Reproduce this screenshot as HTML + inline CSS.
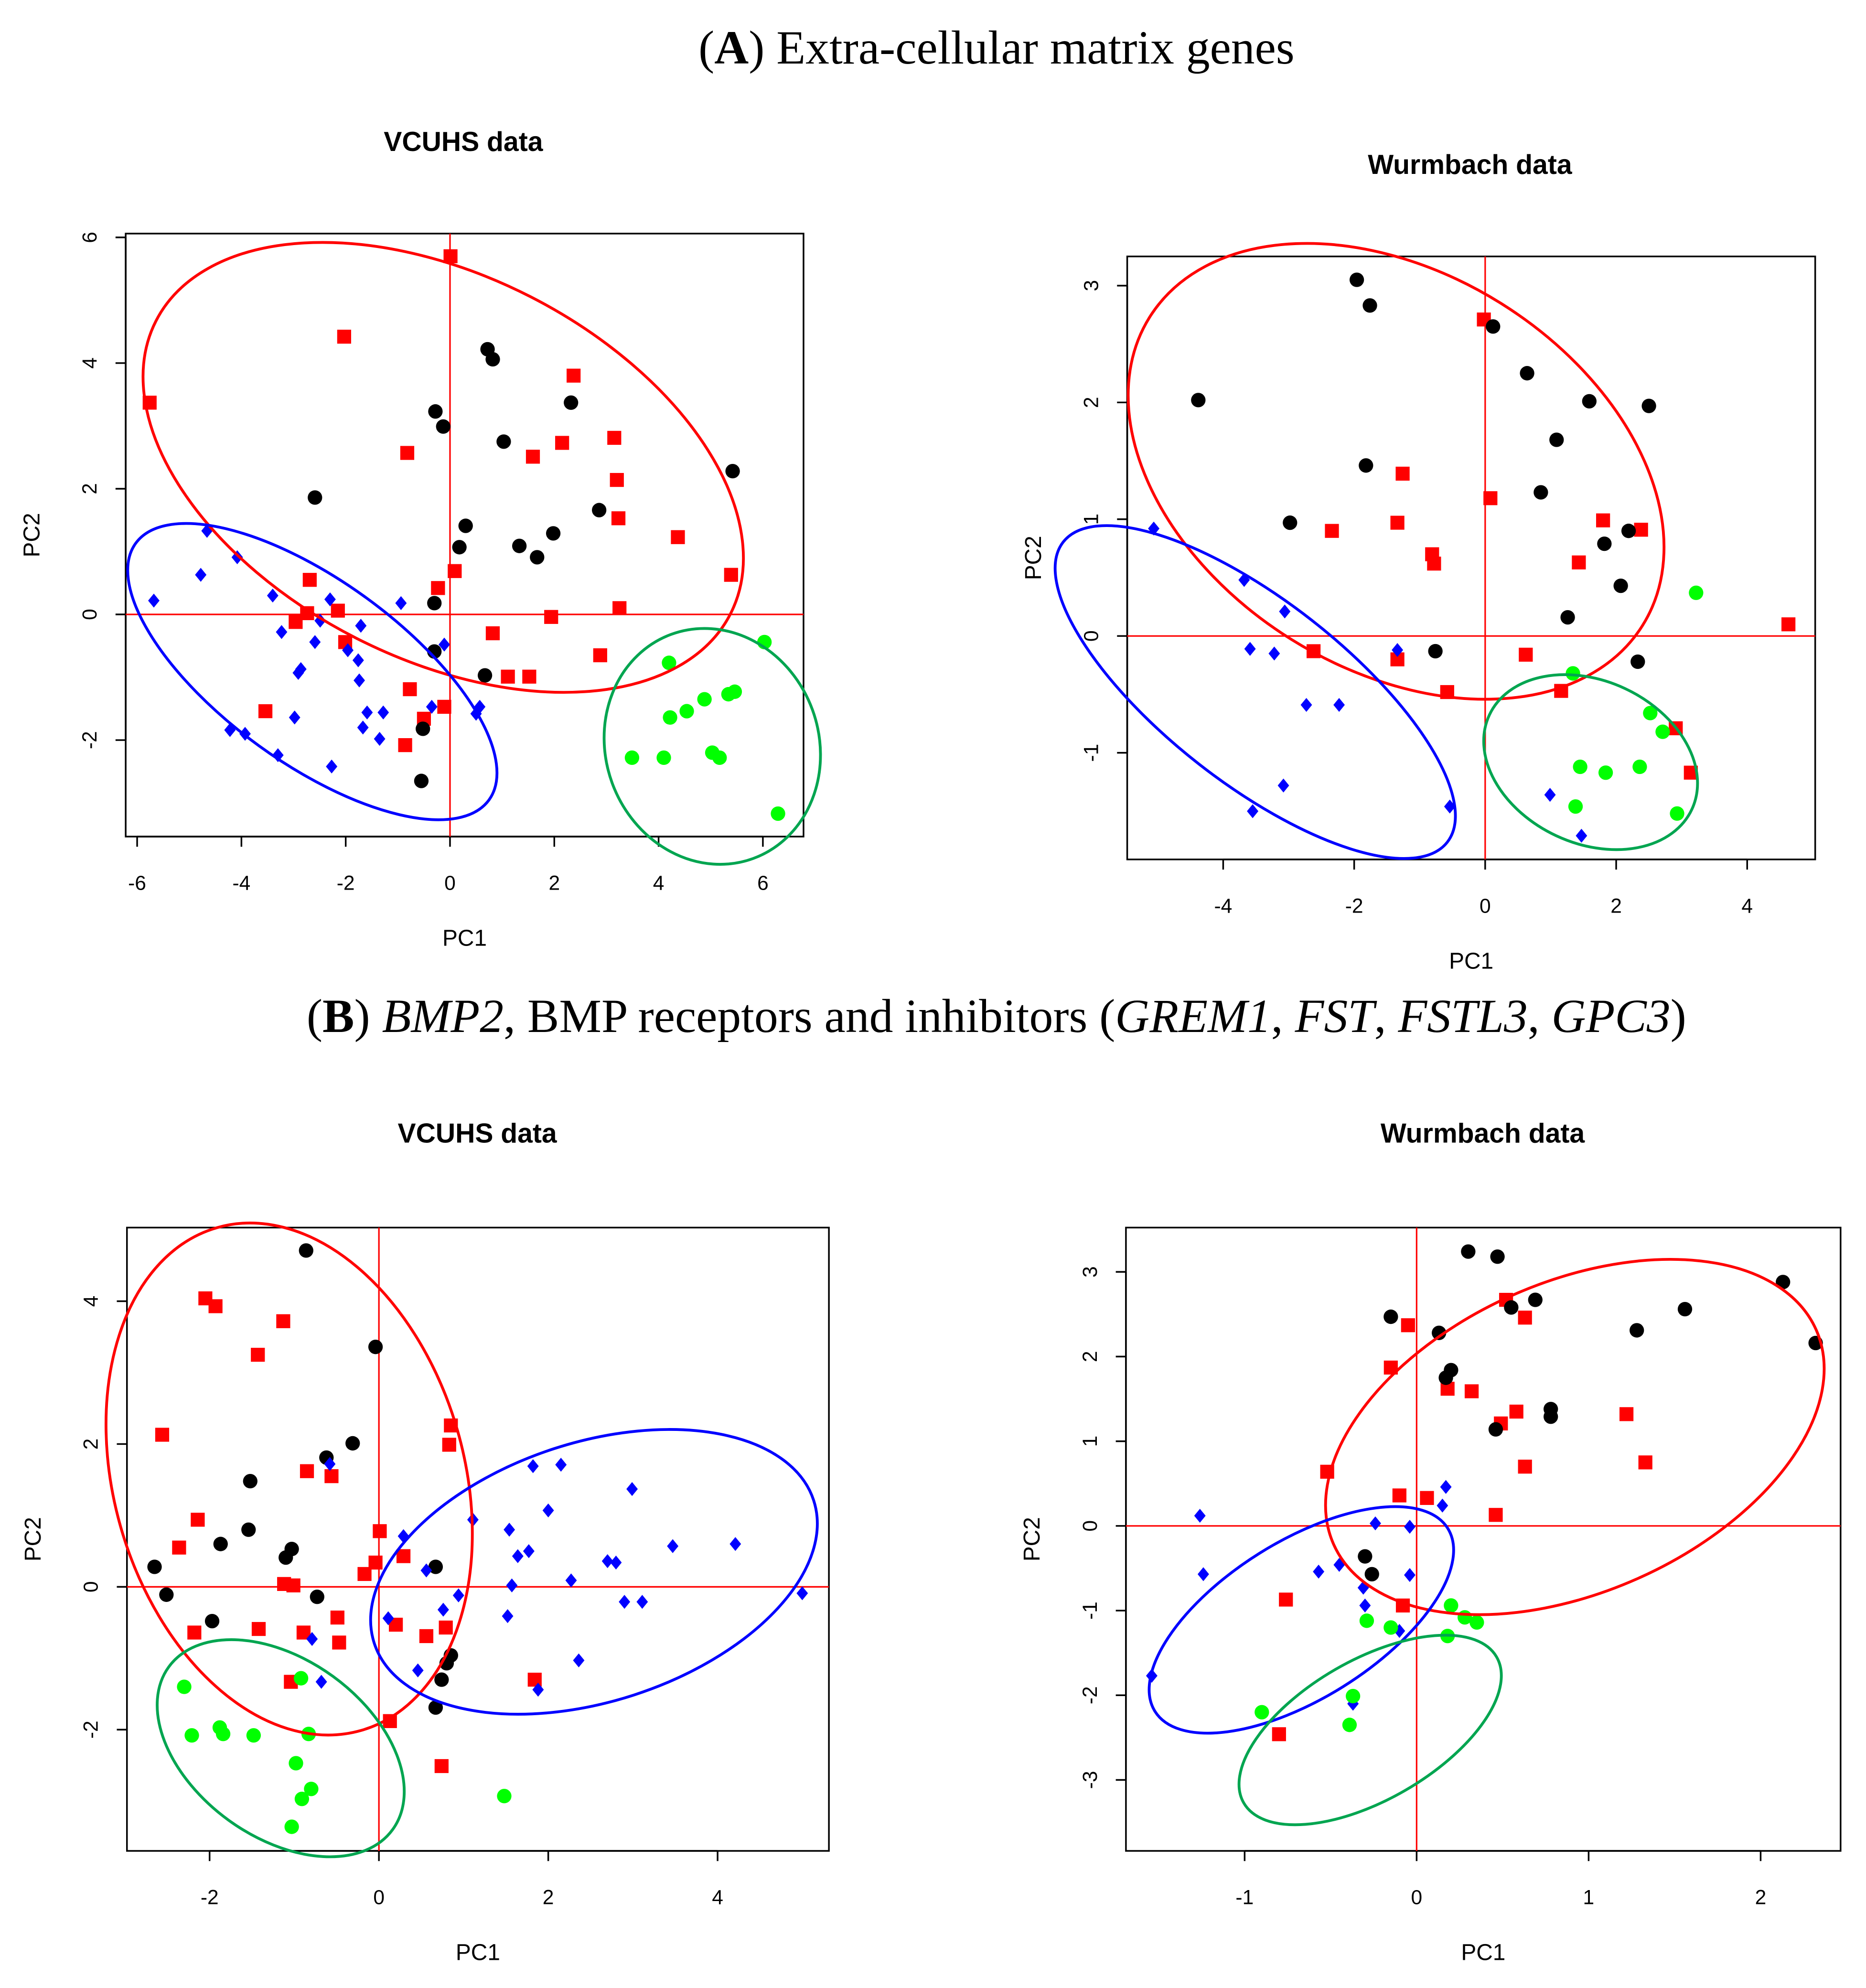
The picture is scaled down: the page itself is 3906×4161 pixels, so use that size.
<!DOCTYPE html>
<html><head><meta charset="utf-8"><style>
html,body{margin:0;padding:0;background:#fff;}
svg{display:block;}
</style></head><body>
<svg id="fig" width="3906" height="4161" viewBox="0 0 1470 1566" xmlns="http://www.w3.org/2000/svg">
<text x="785" y="50" text-anchor="middle" font-family="Liberation Serif, serif" font-size="37.5">(<tspan font-weight="bold">A</tspan>) Extra-cellular matrix genes</text>
<text x="785" y="813" text-anchor="middle" font-family="Liberation Serif, serif" font-size="37.5">(<tspan font-weight="bold">B</tspan>) <tspan font-style="italic">BMP2</tspan>, BMP receptors and inhibitors (<tspan font-style="italic">GREM1</tspan>, <tspan font-style="italic">FST</tspan>, <tspan font-style="italic">FSTL3</tspan>, <tspan font-style="italic">GPC3</tspan>)</text>
</svg>
<script>
// ---- Panel A-left (VCUHS, ECM) ----
const aL_black = [[0.72,4.22],[0.82,4.06],[-0.28,3.23],[-0.13,2.99],[1.03,2.75],[2.32,3.37],[5.42,2.28],[-2.59,1.86],[2.86,1.66],[0.30,1.41],[0.18,1.07],[1.33,1.09],[1.67,0.91],[1.98,1.29],[-0.30,0.18],[-0.30,-0.59],[0.67,-0.97],[-0.52,-1.82],[-0.55,-2.65]];
const aL_red = [[-5.76,3.37],[-2.03,4.42],[0.01,5.70],[-0.82,2.57],[2.37,3.80],[1.59,2.51],[2.15,2.73],[3.15,2.81],[3.20,2.14],[3.23,1.53],[4.37,1.23],[5.39,0.63],[3.25,0.10],[1.94,-0.04],[2.88,-0.65],[1.52,-0.99],[1.11,-0.99],[0.82,-0.30],[0.09,0.69],[-0.23,0.42],[-0.11,-1.47],[-0.50,-1.66],[-0.86,-2.08],[-0.77,-1.19],[-2.01,-0.44],[-2.15,0.06],[-2.69,0.55],[-2.74,0.02],[-2.96,-0.12],[-3.54,-1.54]];
const aL_blue = [[-5.68,0.22],[-4.78,0.63],[-4.66,1.33],[-4.08,0.91],[-3.40,0.30],[-3.23,-0.28],[-2.86,-0.87],[-2.91,-0.93],[-2.98,-1.64],[-3.30,-2.24],[-4.22,-1.84],[-3.93,-1.90],[-2.49,-0.10],[-2.30,0.24],[-2.59,-0.44],[-2.27,-2.42],[-1.96,-0.57],[-1.71,-0.18],[-1.76,-0.73],[-1.74,-1.05],[-1.59,-1.56],[-1.28,-1.56],[-1.67,-1.80],[-1.35,-1.98],[-0.94,0.18],[-0.11,-0.48],[-0.35,-1.47],[0.57,-1.47],[0.50,-1.58]];
const aL_green = [[4.20,-0.77],[6.03,-0.44],[4.22,-1.64],[4.54,-1.54],[4.88,-1.35],[5.34,-1.27],[5.46,-1.23],[3.49,-2.28],[4.10,-2.28],[5.03,-2.20],[5.17,-2.28],[6.29,-3.17]];
const aL_xticks = [-6,-4,-2,0,2,4,6];
const aL_yticks = [-2,0,2,4,6];
// ellipses: [centerX, centerY (data), semi-axis a, semi-axis b (px), angle deg]
const aL_ell = {red:[-0.13,2.34,254,151,27], blue:[-2.64,-0.91,172,72,36], green:[5.03,-2.10,94,84,70]};

// ---- Panel A-right (Wurmbach, ECM) ----
const aR_black = [[-1.96,3.05],[-1.76,2.83],[-4.38,2.02],[0.12,2.65],[0.64,2.25],[1.59,2.01],[2.50,1.97],[1.09,1.68],[-1.82,1.46],[0.85,1.23],[-2.98,0.97],[2.19,0.90],[1.82,0.79],[2.07,0.43],[1.26,0.16],[-0.76,-0.13],[2.33,-0.22]];
const aR_red = [[-0.02,2.71],[-1.26,1.39],[0.08,1.18],[-2.34,0.90],[-1.34,0.97],[-0.81,0.70],[-0.78,0.62],[1.80,0.99],[2.38,0.91],[1.43,0.63],[4.63,0.10],[-2.62,-0.13],[-1.34,-0.20],[-0.58,-0.48],[0.62,-0.16],[1.16,-0.47],[2.91,-0.79],[3.14,-1.17]];
const aR_blue = [[-5.06,0.92],[-3.68,0.48],[-3.06,0.21],[-3.59,-0.11],[-3.22,-0.15],[-2.73,-0.59],[-2.23,-0.59],[-3.08,-1.28],[-3.55,-1.50],[-1.34,-0.12],[-0.54,-1.46],[0.99,-1.36],[1.47,-1.71]];
const aR_green = [[3.22,0.37],[1.34,-0.32],[2.52,-0.66],[2.71,-0.82],[1.45,-1.12],[1.84,-1.17],[2.36,-1.12],[1.38,-1.46],[2.93,-1.52]];
const aR_xticks = [-4,-2,0,2,4];
const aR_yticks = [-1,0,1,2,3];
const aR_ell = {red:[-1.36,1.41,229,156,32], blue:[-3.51,-0.48,192,72,38], green:[1.61,-1.08,88,64,25]};

// ---- Panel B-left (VCUHS, BMP) ----
const bL_black = [[-0.86,4.71],[-0.04,3.36],[-0.31,2.01],[-0.62,1.81],[-1.52,1.48],[-1.54,0.80],[-1.87,0.60],[-1.03,0.53],[-1.10,0.41],[-2.65,0.28],[-2.51,-0.11],[-0.73,-0.14],[-1.97,-0.48],[0.67,0.28],[0.85,-0.96],[0.80,-1.07],[0.74,-1.30],[0.67,-1.69]];
const bL_red = [[-2.05,4.04],[-1.93,3.93],[-1.13,3.72],[-1.43,3.25],[-2.56,2.13],[0.85,2.26],[0.83,1.99],[-0.85,1.62],[-0.56,1.55],[-2.14,0.94],[-2.36,0.55],[0.01,0.78],[0.29,0.43],[-0.04,0.34],[-0.17,0.18],[-1.12,0.04],[-1.01,0.02],[-2.18,-0.64],[-1.42,-0.59],[-0.89,-0.64],[-0.49,-0.43],[-0.47,-0.78],[0.20,-0.53],[0.56,-0.69],[0.79,-0.57],[-1.04,-1.33],[0.13,-1.88],[1.84,-1.30],[0.74,-2.51]];
const bL_blue = [[-0.58,1.72],[1.82,1.69],[2.15,1.71],[1.11,0.94],[0.29,0.71],[1.54,0.80],[2.00,1.07],[2.99,1.37],[1.77,0.50],[1.64,0.43],[0.56,0.23],[2.70,0.36],[2.80,0.34],[3.47,0.57],[4.21,0.60],[2.27,0.09],[1.57,0.02],[0.94,-0.12],[0.76,-0.32],[2.90,-0.21],[3.11,-0.21],[1.52,-0.41],[2.36,-1.03],[5.00,-0.09],[0.11,-0.44],[-0.79,-0.73],[0.46,-1.17],[1.88,-1.44],[-0.68,-1.33]];
const bL_green = [[-2.30,-1.40],[-2.21,-2.08],[-1.88,-1.97],[-1.84,-2.06],[-1.48,-2.08],[-0.92,-1.28],[-0.83,-2.06],[-0.98,-2.47],[-0.80,-2.83],[-0.91,-2.97],[-1.03,-3.36],[1.48,-2.93]];
const bL_xticks = [-2,0,2,4];
const bL_yticks = [-2,0,2,4];
const bL_ell = {red:[-1.06,1.51,206,138,74], blue:[2.54,0.21,182,102,-18], green:[-1.16,-2.26,109,70,36]};

// ---- Panel B-right (Wurmbach, BMP) ----
const bR_black = [[0.30,3.24],[0.47,3.18],[2.13,2.88],[0.69,2.67],[0.55,2.58],[1.56,2.56],[-0.15,2.47],[0.13,2.28],[1.28,2.31],[2.32,2.16],[0.20,1.84],[0.17,1.75],[0.78,1.38],[0.78,1.29],[0.46,1.14],[-0.30,-0.36],[-0.26,-0.57]];
const bR_red = [[0.52,2.67],[0.63,2.46],[-0.05,2.37],[-0.15,1.87],[0.18,1.62],[0.32,1.59],[0.58,1.35],[0.49,1.21],[1.22,1.32],[1.33,0.75],[0.63,0.70],[-0.52,0.64],[-0.10,0.36],[0.06,0.33],[0.46,0.13],[-0.76,-0.87],[-0.08,-0.94],[-0.80,-2.46]];
const bR_blue = [[-1.26,0.12],[0.17,0.46],[-0.24,0.03],[-0.04,-0.01],[0.15,0.24],[-1.24,-0.57],[-0.57,-0.54],[-0.45,-0.46],[-0.04,-0.58],[-0.31,-0.73],[-0.30,-0.94],[-1.54,-1.77],[-0.10,-1.24],[-0.37,-2.10]];
const bR_green = [[0.20,-0.94],[-0.29,-1.12],[-0.15,-1.20],[0.28,-1.08],[0.35,-1.14],[0.18,-1.30],[-0.90,-2.20],[-0.37,-2.01],[-0.39,-2.35]];
const bR_xticks = [-1,0,1,2];
const bR_yticks = [-3,-2,-1,0,1,2,3];
const bR_ell = {red:[0.92,1.05,208,122,-24], blue:[-0.67,-1.11,136,62,-32], green:[-0.27,-2.41,115,55,-30]};

const NS='http://www.w3.org/2000/svg';
const svg=document.getElementById('fig');
function mk(tag,attrs,parent){const e=document.createElementNS(NS,tag);for(const k in attrs)e.setAttribute(k,attrs[k]);(parent||svg).appendChild(e);return e;}

function panel(id,cfg){
  const g=mk('g',{});
  
  
  const sx=v=>cfg.x0+(v-cfg.xr[0])*cfg.xs;
  const sy=v=>cfg.y0-(v-cfg.yr[0])*cfg.ys;
  const F='Liberation Sans, sans-serif';
  const t=mk('text',{x:cfg.tx,y:cfg.ty,'text-anchor':'middle','font-family':F,'font-size':21.5,'font-weight':'bold'},g);
  t.textContent=cfg.title;
  
  
  const b=mk('rect',{x:cfg.box[0],y:cfg.box[1],width:cfg.box[2]-cfg.box[0],height:cfg.box[3]-cfg.box[1],fill:'none',stroke:'#000','stroke-width':1.3},g);
  
  
  const xa=mk('g',{},g);
  
  
  const xt=cfg.xticks, yB=cfg.box[3];
  mk('line',{x1:sx(xt[0]),x2:sx(xt[xt.length-1]),y1:yB,y2:yB,stroke:'#000','stroke-width':1.3},xa);
  xt.forEach(v=>{
    mk('line',{x1:sx(v),x2:sx(v),y1:yB,y2:yB+8,stroke:'#000','stroke-width':1.3},xa);
    const l=mk('text',{x:sx(v),y:yB+42,'text-anchor':'middle','font-family':F,'font-size':16},xa);
    l.textContent=String(v);
    
    
  });
  const xl=mk('text',{x:(cfg.box[0]+cfg.box[2])/2,y:yB+86,'text-anchor':'middle','font-family':F,'font-size':18},g);
  xl.textContent='PC1';
  
  
  const ya=mk('g',{},g);
  
  
  const yt=cfg.yticks, xL=cfg.box[0];
  mk('line',{x1:xL,x2:xL,y1:sy(yt[0]),y2:sy(yt[yt.length-1]),stroke:'#000','stroke-width':1.3},ya);
  yt.forEach(v=>{
    mk('line',{x1:xL-8,x2:xL,y1:sy(v),y2:sy(v),stroke:'#000','stroke-width':1.3},ya);
    const l=mk('text',{x:0,y:0,'text-anchor':'middle','font-family':F,'font-size':16,transform:`translate(${xL-23},${sy(v)}) rotate(-90)`},ya);
    l.textContent=String(v);
    
    
  });
  const yl=mk('text',{x:0,y:0,'text-anchor':'middle','font-family':F,'font-size':18,transform:`translate(${xL-68},${(cfg.box[1]+cfg.box[3])/2}) rotate(-90)`},g);
  yl.textContent='PC2';
  
  
  const z1=mk('line',{x1:sx(0),x2:sx(0),y1:cfg.box[1],y2:cfg.box[3],stroke:'#f00','stroke-width':1.2},g);
  
  
  const z2=mk('line',{x1:cfg.box[0],x2:cfg.box[2],y1:sy(0),y2:sy(0),stroke:'#f00','stroke-width':1.2},g);
  
  
  const pts=mk('g',{},g);
  
  
  cfg.red.forEach(p=>{const e=mk('rect',{x:sx(p[0])-5.5,y:sy(p[1])-5.5,width:11,height:11,fill:'#f00'},pts);
    
    });
  cfg.black.forEach(p=>{const e=mk('circle',{cx:sx(p[0]),cy:sy(p[1]),r:5.7,fill:'#000'},pts);
    
    });
  cfg.blue.forEach(p=>{const x=sx(p[0]),y=sy(p[1]);const e=mk('polygon',{points:`${x},${y-5.5} ${x+4.5},${y} ${x},${y+5.5} ${x-4.5},${y}`,fill:'#00f'},pts);
    
    });
  cfg.green.forEach(p=>{const e=mk('circle',{cx:sx(p[0]),cy:sy(p[1]),r:5.7,fill:'#0f0'},pts);
    
    });
  const cols={red:'#f00',blue:'#00f',green:'#00a550'};
  for(const k in cfg.ell){const E=cfg.ell[k];const cx=sx(E[0]),cy=sy(E[1]);
    const e=mk('ellipse',{cx:cx,cy:cy,rx:E[2],ry:E[3],transform:`rotate(${E[4]} ${cx} ${cy})`,fill:'none',stroke:cols[k],'stroke-width':2.2},g);
    
    }
}

panel('a-vcuhs',{title:'VCUHS data',tx:365,ty:119,box:[99,184,633,659],x0:354.5,xr:[0,0],xs:41.08,y0:484,yr:[0,0],ys:49.5,
  xticks:aL_xticks,yticks:aL_yticks,black:aL_black,red:aL_red,blue:aL_blue,green:aL_green,ell:aL_ell});
panel('a-wurmbach',{title:'Wurmbach data',tx:1158,ty:137,box:[888,202,1430,677],x0:1170,xr:[0,0],xs:51.6,y0:501,yr:[0,0],ys:92,
  xticks:aR_xticks,yticks:aR_yticks,black:aR_black,red:aR_red,blue:aR_blue,green:aR_green,ell:aR_ell});
panel('b-vcuhs',{title:'VCUHS data',tx:376,ty:900,box:[100,967,653,1458],x0:298.5,xr:[0,0],xs:66.7,y0:1250,yr:[0,0],ys:56.25,
  xticks:bL_xticks,yticks:bL_yticks,black:bL_black,red:bL_red,blue:bL_blue,green:bL_green,ell:bL_ell});
panel('b-wurmbach',{title:'Wurmbach data',tx:1168,ty:900,box:[887,967,1450,1458],x0:1116,xr:[0,0],xs:135.5,y0:1202,yr:[0,0],ys:66.7,
  xticks:bR_xticks,yticks:bR_yticks,black:bR_black,red:bR_red,blue:bR_blue,green:bR_green,ell:bR_ell});
</script>
</body></html>
